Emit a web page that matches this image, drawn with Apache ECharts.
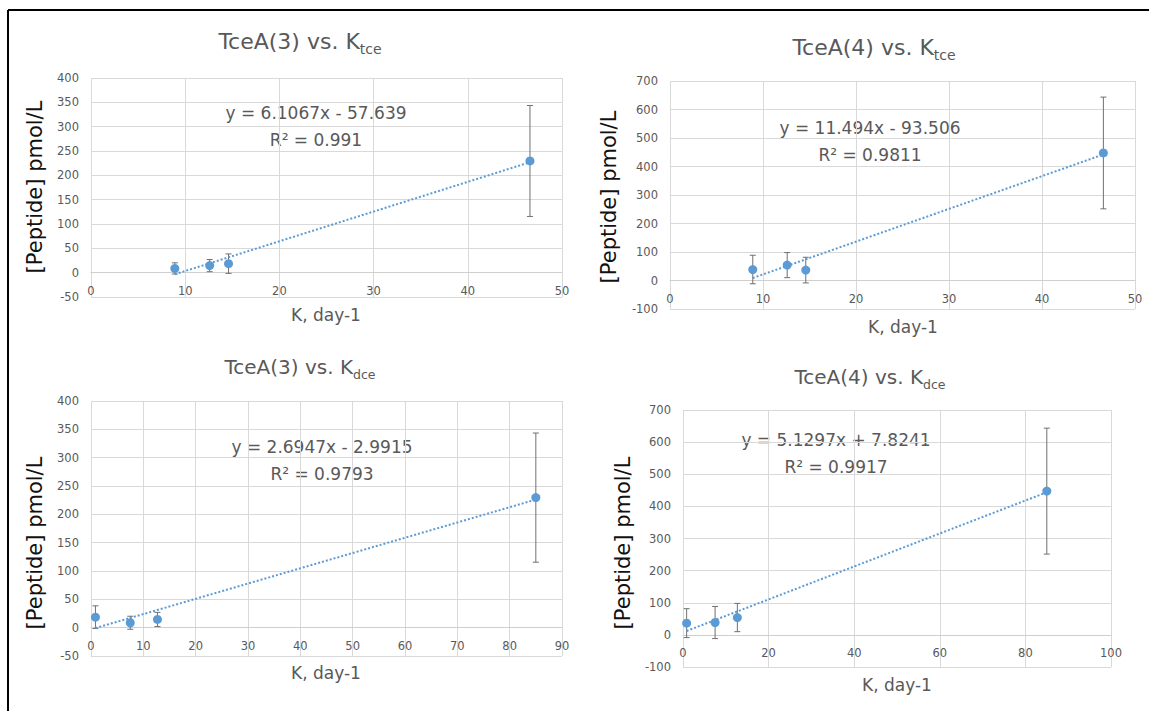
<!DOCTYPE html>
<html>
<head>
<meta charset="utf-8">
<script src="https://cdn.jsdelivr.net/npm/echarts@6/dist/echarts.min.js"></script>
<style>
html, body { margin: 0; padding: 0; background: #fff; }
#main { width: 1149px; height: 711px; }
</style>
</head>
<body>
<div id="main"></div>
<script>
// the four samples, same order in every panel
var kTce = [14.6, 8.9, 12.6, 46.6];
var kDce = [0.85, 7.5, 12.7, 85.0];
var tceA3 = [18.5, 8.7, 14.5, 229.5];
var tceA3Err = [20, 11.5, 12.5, 114];
var tceA4 = [36.5, 38.5, 54, 447.5];
var tceA4Err = [45, 50, 44, 196];

// panels: top-left, top-right, bottom-left, bottom-right
var panelNames = ['TceA(3) vs. K', 'TceA(4) vs. K', 'TceA(3) vs. K', 'TceA(4) vs. K'];
var panelSubs = ['tce', 'tce', 'dce', 'dce'];
var slopes = [6.1067, 11.494, 2.6947, 5.1297];
var intercepts = [-57.639, -93.506, -2.9915, 7.8241];
var eqLabels = ['y = 6.1067x - 57.639', 'y = 11.494x - 93.506', 'y = 2.6947x - 2.9915', 'y = 5.1297x + 7.8241'];
var r2Labels = ['R\u00b2 = 0.991', 'R\u00b2 = 0.9811', 'R\u00b2 = 0.9793', 'R\u00b2 = 0.9917'];
var xMax = [50, 50, 90, 100];
var xStep = [10, 10, 10, 20];
var yMin = [-50, -100, -50, -100];
var yMax = [400, 700, 400, 700];
var yStep = [50, 100, 50, 100];
var yTitle = '[Peptide] pmol/L';
var xTitle = 'K, day-1';

var xs = [kTce, kTce, kDce, kDce];
var ys = [tceA3, tceA4, tceA3, tceA4];
var errs = [tceA3Err, tceA4Err, tceA3Err, tceA4Err];

// layout
var FONT = 'DejaVu Sans';
var TXT = '#595959';
var BLUE = '#5B9BD5';
var GRIDC = '#d9d9d9';
var grids = [
    { left: 91, top: 78, width: 471, height: 219 },
    { left: 670, top: 81, width: 465, height: 228 },
    { left: 91, top: 401, width: 471, height: 255 },
    { left: 683, top: 410, width: 428, height: 257 }
];
// centre x, bottom y of main title text, main size, subscript size
var titlePos = [[300, 52, 22, 14], [874, 58, 22, 14], [300, 377, 20, 12.5], [870, 387, 20, 12.5]];
var eqPos = [[316, 113], [870, 128], [322, 447], [836, 440]];
var yTitlePos = [[35, 187], [609, 197], [35, 543], [623, 543]];
var xTitlePos = [[326, 315], [903, 327], [326, 673], [897, 685]];

var myChart = echarts.init(document.getElementById('main'), null, { renderer: 'svg' });
var measure = document.createElement('canvas').getContext('2d');
function textWidth(t, size) {
    measure.font = size + 'px "' + FONT + '"';
    return measure.measureText(t).width;
}

function errorBar(params, api) {
    var x = api.value(0), y = api.value(1), e = api.value(2);
    var hi = api.coord([x, y + e]);
    var lo = api.coord([x, y - e]);
    var c = 3;
    var st = { stroke: '#707070', lineWidth: 1 };
    return {
        type: 'group',
        children: [
            { type: 'line', shape: { x1: hi[0], y1: hi[1], x2: lo[0], y2: lo[1] }, style: st },
            { type: 'line', shape: { x1: hi[0] - c, y1: hi[1], x2: hi[0] + c, y2: hi[1] }, style: st },
            { type: 'line', shape: { x1: lo[0] - c, y1: lo[1], x2: lo[0] + c, y2: lo[1] }, style: st }
        ]
    };
}

var gridList = [], xAxes = [], yAxes = [], series = [], graphics = [];

for (var i = 0; i < 4; i++) {
    gridList.push(grids[i]);
    // x axis sits on the y = 0 line, labels hang just under it
    var zeroUp = -yMin[i] / (yMax[i] - yMin[i]) * grids[i].height;
    xAxes.push({
        type: 'value', gridIndex: i, min: 0, max: xMax[i], interval: xStep[i],
        offset: -zeroUp,
        axisLine: { show: true, onZero: false, lineStyle: { color: '#cfcfcf', width: 1 } },
        axisTick: { show: false },
        axisLabel: { color: TXT, fontSize: 11.5, fontFamily: FONT, margin: 12 },
        splitLine: { lineStyle: { color: GRIDC, width: 1 } }
    });
    yAxes.push({
        type: 'value', gridIndex: i, min: yMin[i], max: yMax[i], interval: yStep[i],
        axisLine: { show: false },
        axisTick: { show: false },
        axisLabel: { color: TXT, fontSize: 11.5, fontFamily: FONT, margin: 12 },
        splitLine: { lineStyle: { color: GRIDC, width: 1 } }
    });

    var pts = [], bars = [];
    for (var j = 0; j < xs[i].length; j++) {
        pts.push([xs[i][j], ys[i][j]]);
        bars.push([xs[i][j], ys[i][j], errs[i][j]]);
    }
    var x0 = Math.min.apply(null, xs[i]), x1 = Math.max.apply(null, xs[i]);

    series.push({
        type: 'custom', xAxisIndex: i, yAxisIndex: i, renderItem: errorBar,
        data: bars, encode: { x: 0, y: 1 }, z: 2, silent: true
    });
    series.push({
        type: 'line', xAxisIndex: i, yAxisIndex: i, showSymbol: false, symbol: 'none',
        data: [[x0, slopes[i] * x0 + intercepts[i]], [x1, slopes[i] * x1 + intercepts[i]]],
        lineStyle: { color: BLUE, width: 2, type: [2, 2] }, z: 3, silent: true
    });
    series.push({
        type: 'scatter', xAxisIndex: i, yAxisIndex: i, symbolSize: 9,
        itemStyle: { color: BLUE, opacity: 1 }, data: pts, z: 4
    });

    // panel title: main part + lowered subscript, centred together
    var tp = titlePos[i];
    var wMain = textWidth(panelNames[i], tp[2]);
    var wSub = textWidth(panelSubs[i], tp[3]);
    var split = tp[0] - (wMain + wSub) / 2 + wMain;
    graphics.push({
        type: 'text', x: split, y: tp[1],
        style: { text: panelNames[i], align: 'right', verticalAlign: 'bottom', fill: TXT, font: tp[2] + 'px "' + FONT + '"' }
    });
    graphics.push({
        type: 'text', x: split, y: tp[1] + 4,
        style: { text: panelSubs[i], align: 'left', verticalAlign: 'bottom', fill: TXT, font: tp[3] + 'px "' + FONT + '"' }
    });
    // trendline equation
    graphics.push({
        type: 'text', x: eqPos[i][0], y: eqPos[i][1],
        style: { text: eqLabels[i], align: 'center', verticalAlign: 'middle', fill: TXT, font: '17px "' + FONT + '"' }
    });
    graphics.push({
        type: 'text', x: eqPos[i][0], y: eqPos[i][1] + 27,
        style: { text: r2Labels[i], align: 'center', verticalAlign: 'middle', fill: TXT, font: '17px "' + FONT + '"' }
    });
    // axis titles
    graphics.push({
        type: 'text', x: yTitlePos[i][0], y: yTitlePos[i][1], rotation: Math.PI / 2,
        style: { text: yTitle, align: 'center', verticalAlign: 'middle', fill: '#111', font: '21px "' + FONT + '"' }
    });
    graphics.push({
        type: 'text', x: xTitlePos[i][0], y: xTitlePos[i][1],
        style: { text: xTitle, align: 'center', verticalAlign: 'middle', fill: TXT, font: '17px "' + FONT + '"' }
    });
}

// frame lines along top and left
graphics.push({ type: 'line', shape: { x1: 8, y1: 10, x2: 1149, y2: 10 }, style: { stroke: '#000', lineWidth: 2 } });
graphics.push({ type: 'line', shape: { x1: 8, y1: 10, x2: 8, y2: 711 }, style: { stroke: '#000', lineWidth: 2 } });

var option = {
    backgroundColor: '#fff',
    animation: false,
    grid: gridList,
    xAxis: xAxes,
    yAxis: yAxes,
    series: series,
    graphic: graphics
};
myChart.setOption(option);
</script>
</body>
</html>
